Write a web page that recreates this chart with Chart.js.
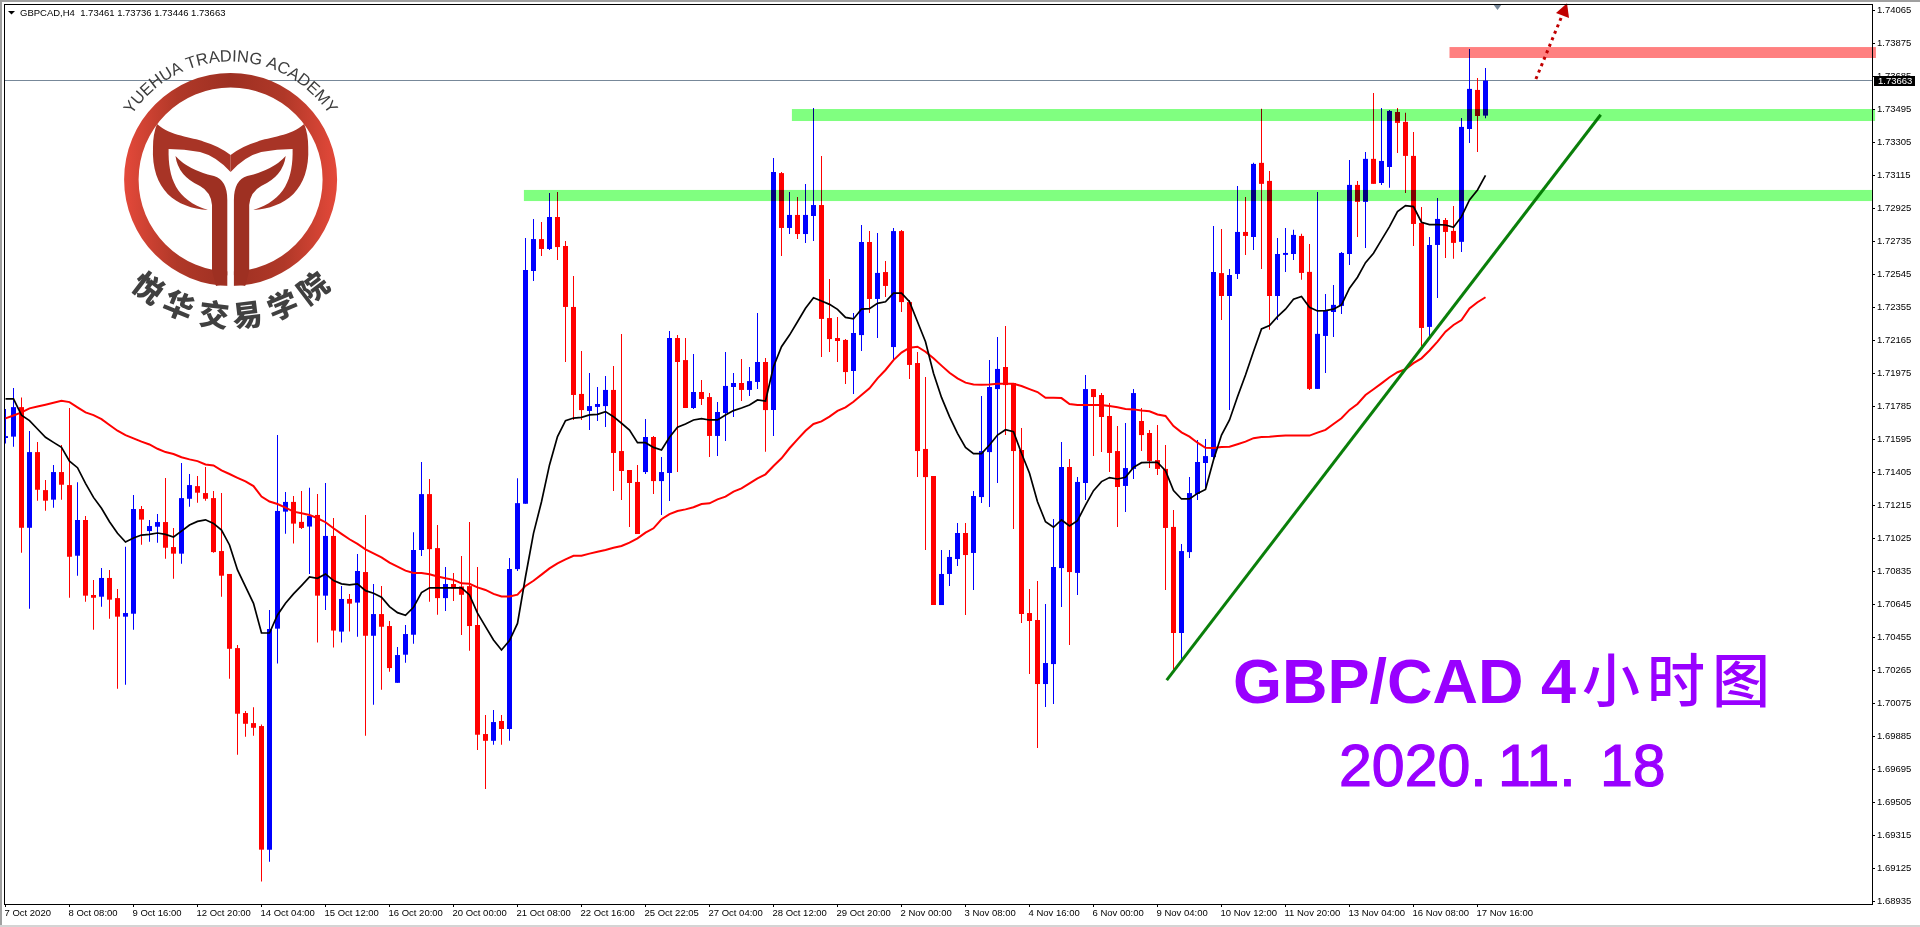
<!DOCTYPE html>
<html lang="zh">
<head>
    <meta charset="UTF-8">
    <title>GBPCAD H4</title>
    <script src="https://cdn.jsdelivr.net/npm/chart.js"></script>
    <style>
        html, body { margin: 0; padding: 0; background: #fff; overflow: hidden; }
        canvas { display: block; }
    </style>
</head>
<body>
    <canvas id="grafico" width="1920" height="927"></canvas>

    <script>
        // Candles, oldest first
        const opens = [
            1.71604,1.71612,1.71782,1.71087,1.71523,1.71304,1.71249,1.71408,1.71333,1.70926,
            1.71132,1.70700,1.70690,1.70798,1.70682,1.70575,1.70592,1.71195,1.71068,1.71093,
            1.71120,1.70976,1.70938,1.71254,1.71327,1.71287,1.71258,1.70953,1.70821,1.70394,
            1.70020,1.69962,1.69945,1.69233,1.70506,1.71180,1.71236,1.71121,1.71094,1.71161,
            1.70696,1.71040,1.70489,1.70677,1.70656,1.70832,1.70465,1.70590,1.70521,1.70194,
            1.70356,1.70471,1.70959,1.71281,1.70970,1.70682,1.70763,1.70749,1.70751,1.70527,
            1.69899,1.69860,1.69974,1.69928,1.70849,1.71226,1.72566,1.72750,1.72693,1.72877,
            1.72710,1.72359,1.71858,1.71760,1.71783,1.71788,1.71881,1.71529,1.71420,1.71351,
            1.71408,1.71610,1.71356,1.71403,1.72180,1.72053,1.71777,1.71869,1.71840,1.71616,
            1.71748,1.71898,1.71921,1.71881,1.71927,1.72042,1.71765,1.73130,1.72814,1.72889,
            1.72779,1.72883,1.72946,1.72295,1.72180,1.72169,1.71990,1.72197,1.72733,1.72405,
            1.72560,1.72128,1.72796,1.72387,1.72036,1.71541,1.71385,1.70642,1.70821,1.70907,
            1.71057,1.70942,1.71264,1.71523,1.71886,1.72013,1.71921,1.71535,1.70596,1.70556,
            1.70187,1.70302,1.70855,1.71437,1.70827,1.71345,1.71886,1.71852,1.71731,1.71529,
            1.71328,1.71426,1.71702,1.71633,1.71477,1.71426,1.71092,1.70481,1.70947,1.71282,
            1.71460,1.71495,1.72554,1.72422,1.72549,1.72791,1.72762,1.73189,1.73085,1.72422,
            1.72659,1.72664,1.72768,1.72561,1.71887,1.72192,1.72330,1.72365,1.72664,1.73062,
            1.72964,1.73212,1.73073,1.73165,1.73482,1.73425,1.73229,1.72843,1.72244,1.72716,
            1.72860,1.72797,1.72734,1.73384,1.73609,1.73461
        ];
        const highs = [
            1.71771,1.71892,1.71838,1.71644,1.71581,1.71362,1.71448,1.71564,1.71777,1.71350,
            1.71155,1.70786,1.70855,1.70844,1.70734,1.70978,1.71276,1.71212,1.71132,1.71166,
            1.71374,1.71086,1.71460,1.71397,1.71385,1.71437,1.71299,1.71287,1.70821,1.70412,
            1.70031,1.70054,1.69954,1.70613,1.71622,1.71293,1.71270,1.71299,1.71317,1.71282,
            1.71345,1.71144,1.70752,1.70706,1.70936,1.71160,1.70763,1.70751,1.70550,1.70400,
            1.70527,1.71062,1.71466,1.71368,1.71103,1.70861,1.70826,1.70924,1.71120,1.70861,
            1.70008,1.70037,1.70008,1.70913,1.71373,1.72756,1.72866,1.72848,1.73015,1.73021,
            1.72739,1.72537,1.72105,1.71979,1.71898,1.71961,1.72019,1.72203,1.71420,1.71449,
            1.71714,1.71616,1.71495,1.72220,1.72197,1.72180,1.72088,1.71938,1.71863,1.71811,
            1.72099,1.71979,1.72059,1.72013,1.72324,1.72065,1.73217,1.73136,1.73021,1.72992,
            1.73067,1.73505,1.73228,1.72520,1.72301,1.72174,1.72324,1.72831,1.72796,1.72785,
            1.72624,1.72814,1.72802,1.72399,1.72099,1.71955,1.71385,1.70959,1.70959,1.71115,
            1.71115,1.71299,1.71846,1.72053,1.72186,1.72249,1.71921,1.71662,1.70734,1.70780,
            1.70648,1.71138,1.71581,1.71483,1.71379,1.71967,1.71886,1.71863,1.71806,1.71673,
            1.71690,1.71886,1.71777,1.71650,1.71679,1.71564,1.71189,1.70994,1.71379,1.71593,
            1.71598,1.72825,1.72808,1.72578,1.73056,1.72992,1.73189,1.73500,1.73142,1.72756,
            1.72814,1.72803,1.72780,1.72722,1.73021,1.72434,1.72486,1.72676,1.73206,1.73085,
            1.73252,1.73592,1.73505,1.73494,1.73505,1.73477,1.73367,1.72935,1.72762,1.72987,
            1.72872,1.72941,1.73448,1.73845,1.73678,1.73736
        ];
        const lows = [
            1.71573,1.71554,1.70943,1.70621,1.71243,1.71185,1.71203,1.71249,1.70684,1.70811,
            1.70661,1.70500,1.70632,1.70563,1.70160,1.70183,1.70500,1.70990,1.71007,1.71001,
            1.70909,1.70794,1.70880,1.71208,1.71231,1.71243,1.70943,1.70690,1.70218,1.69780,
            1.69884,1.69889,1.69050,1.69163,1.70305,1.71053,1.70996,1.71080,1.70821,1.70426,
            1.70614,1.70397,1.70426,1.70489,1.70460,1.69889,1.70068,1.70154,1.70258,1.70194,
            1.70310,1.70419,1.70924,1.70661,1.70586,1.70607,1.70665,1.70469,1.70379,1.69807,
            1.69582,1.69837,1.69837,1.69860,1.70838,1.71226,1.72508,1.72652,1.72687,1.72629,
            1.72042,1.71708,1.71708,1.71650,1.71702,1.71667,1.71299,1.71247,1.71091,1.71051,
            1.71397,1.71282,1.71161,1.71241,1.71408,1.71777,1.71771,1.71794,1.71495,1.71500,
            1.71587,1.71725,1.71817,1.71846,1.71886,1.71525,1.71616,1.72652,1.72779,1.72750,
            1.72727,1.72739,1.72071,1.72099,1.72042,1.71915,1.71858,1.72105,1.72324,1.72180,
            1.72416,1.72053,1.72330,1.71944,1.71379,1.70959,1.70642,1.70642,1.70752,1.70867,
            1.70585,1.70729,1.71230,1.71207,1.71345,1.71621,1.71080,1.70539,1.70245,1.69819,
            1.70055,1.70072,1.70631,1.70412,1.70700,1.71247,1.71500,1.71524,1.71408,1.71092,
            1.71178,1.71368,1.71529,1.71431,1.71391,1.70729,1.70268,1.70325,1.70913,1.71247,
            1.71305,1.71477,1.72284,1.71765,1.72520,1.72658,1.72687,1.72578,1.72227,1.72284,
            1.72561,1.72630,1.72515,1.71881,1.71887,1.71979,1.72186,1.72319,1.72601,1.72762,
            1.72699,1.73068,1.73062,1.73045,1.73246,1.73016,1.72710,1.72134,1.72192,1.72411,
            1.72641,1.72636,1.72676,1.73304,1.73252,1.73446
        ];
        const closes = [
            1.71615,1.71782,1.71087,1.71523,1.71306,1.71243,1.71408,1.71335,1.70920,1.71132,
            1.70696,1.70684,1.70798,1.70673,1.70575,1.70596,1.71195,1.71134,1.71097,1.71120,
            1.70972,1.70938,1.71258,1.71333,1.71289,1.71254,1.70947,1.70811,1.70390,1.70016,
            1.69958,1.69935,1.69233,1.70504,1.71184,1.71236,1.71111,1.71086,1.71155,1.70696,
            1.71040,1.70495,1.70677,1.70650,1.70838,1.70465,1.70590,1.70517,1.70279,1.70354,
            1.70475,1.70959,1.71281,1.70964,1.70682,1.70763,1.70738,1.70701,1.70521,1.69895,
            1.69860,1.69968,1.69928,1.70849,1.71229,1.72572,1.72750,1.72693,1.72877,1.72704,
            1.72359,1.71852,1.71765,1.71788,1.71800,1.71881,1.71518,1.71414,1.71345,1.71051,
            1.71610,1.71356,1.71408,1.72180,1.72042,1.71777,1.71869,1.71829,1.71616,1.71754,
            1.71904,1.71921,1.71881,1.71932,1.72042,1.71765,1.73136,1.72814,1.72889,1.72779,
            1.72889,1.72946,1.72290,1.72174,1.72163,1.71984,1.72209,1.72733,1.72405,1.72555,
            1.72480,1.72796,1.72387,1.72025,1.71529,1.71379,1.70642,1.70821,1.70919,1.71057,
            1.70930,1.71270,1.71529,1.71898,1.72002,1.71909,1.71529,1.70590,1.70550,1.70187,
            1.70308,1.70861,1.71437,1.70832,1.71351,1.71886,1.71840,1.71725,1.71518,1.71322,
            1.71431,1.71863,1.71621,1.71472,1.71426,1.71086,1.70481,1.70953,1.71287,1.71466,
            1.71500,1.72560,1.72422,1.72543,1.72791,1.72768,1.73183,1.73068,1.72422,1.72664,
            1.72670,1.72774,1.72555,1.71887,1.72204,1.72336,1.72371,1.72670,1.73062,1.72964,
            1.73212,1.73068,1.73200,1.73488,1.73419,1.73229,1.72837,1.72238,1.72716,1.72866,
            1.72791,1.72728,1.73396,1.73615,1.73459,1.73663
        ];

        // Medias moviles
        const maFast = [
            1.71829,1.71829,1.71736,1.71704,1.71656,1.71608,1.71579,1.71550,1.71471,1.71433,
            1.71343,1.71262,1.71199,1.71122,1.71055,1.71005,1.71028,1.71045,1.71049,1.71057,
            1.71049,1.71034,1.71068,1.71103,1.71124,1.71133,1.71112,1.71074,1.70988,1.70844,
            1.70748,1.70652,1.70481,1.70481,1.70585,1.70652,1.70706,1.70754,1.70804,1.70796,
            1.70821,1.70783,1.70764,1.70758,1.70764,1.70725,1.70710,1.70687,1.70633,1.70598,
            1.70583,1.70629,1.70714,1.70741,1.70741,1.70741,1.70741,1.70741,1.70700,1.70595,
            1.70518,1.70441,1.70383,1.70437,1.70536,1.70805,1.71055,1.71237,1.71449,1.71612,
            1.71704,1.71719,1.71723,1.71737,1.71740,1.71756,1.71727,1.71689,1.71650,1.71577,
            1.71577,1.71550,1.71535,1.71608,1.71666,1.71685,1.71708,1.71716,1.71708,1.71708,
            1.71737,1.71762,1.71777,1.71794,1.71823,1.71817,1.72015,1.72130,1.72197,1.72274,
            1.72351,1.72412,1.72393,1.72374,1.72345,1.72299,1.72290,1.72347,1.72349,1.72380,
            1.72389,1.72439,1.72439,1.72389,1.72274,1.72159,1.71977,1.71838,1.71727,1.71631,
            1.71550,1.71514,1.71514,1.71564,1.71621,1.71652,1.71641,1.71516,1.71401,1.71237,
            1.71122,1.71090,1.71132,1.71097,1.71128,1.71218,1.71301,1.71353,1.71376,1.71368,
            1.71378,1.71435,1.71462,1.71464,1.71464,1.71416,1.71301,1.71253,1.71253,1.71285,
            1.71308,1.71477,1.71621,1.71708,1.71842,1.71967,1.72102,1.72232,1.72252,1.72303,
            1.72346,1.72403,1.72419,1.72357,1.72336,1.72338,1.72346,1.72371,1.72467,1.72530,
            1.72614,1.72668,1.72745,1.72822,1.72908,1.72943,1.72937,1.72847,1.72833,1.72833,
            1.72831,1.72818,1.72879,1.72975,1.73033,1.73117
        ];
        const maSlow = [
            1.71717,1.71734,1.71752,1.71775,1.71786,1.71796,1.71807,1.71819,1.71811,1.71781,
            1.71752,1.71736,1.71713,1.71679,1.71646,1.71621,1.71602,1.71583,1.71567,1.71542,
            1.71523,1.71512,1.71493,1.71481,1.71471,1.71452,1.71446,1.71418,1.71397,1.71375,
            1.71354,1.71327,1.71267,1.71238,1.71224,1.71203,1.71180,1.71171,1.71161,1.71142,
            1.71119,1.71084,1.71052,1.71021,1.70994,1.70963,1.70940,1.70917,1.70886,1.70863,
            1.70840,1.70827,1.70827,1.70819,1.70806,1.70796,1.70787,1.70767,1.70764,1.70744,
            1.70729,1.70706,1.70691,1.70691,1.70702,1.70752,1.70782,1.70817,1.70853,1.70882,
            1.70905,1.70926,1.70926,1.70938,1.70949,1.70959,1.70972,1.70982,1.71001,1.71026,
            1.71059,1.71084,1.71136,1.71166,1.71184,1.71193,1.71205,1.71224,1.71228,1.71251,
            1.71266,1.71295,1.71314,1.71343,1.71372,1.71395,1.71443,1.71487,1.71545,1.71596,
            1.71646,1.71685,1.71700,1.71727,1.71760,1.71781,1.71813,1.71852,1.71890,1.71948,
            1.71996,1.72053,1.72096,1.72124,1.72130,1.72101,1.72063,1.72021,1.71980,1.71948,
            1.71923,1.71913,1.71911,1.71913,1.71917,1.71917,1.71917,1.71904,1.71886,1.71869,
            1.71836,1.71836,1.71834,1.71800,1.71794,1.71794,1.71794,1.71794,1.71788,1.71781,
            1.71771,1.71769,1.71762,1.71758,1.71740,1.71731,1.71673,1.71637,1.71612,1.71577,
            1.71548,1.71546,1.71552,1.71554,1.71568,1.71583,1.71603,1.71610,1.71612,1.71616,
            1.71618,1.71618,1.71618,1.71618,1.71635,1.71651,1.71685,1.71718,1.71766,1.71800,
            1.71852,1.71885,1.71919,1.71954,1.71983,1.72000,1.72035,1.72063,1.72108,1.72159,
            1.72217,1.72255,1.72284,1.72351,1.72386,1.72415
        ];

        // Etiquetas de los ejes
        const xLabels = ['7 Oct 2020','8 Oct 08:00','9 Oct 16:00','12 Oct 20:00','14 Oct 04:00','15 Oct 12:00',
            '16 Oct 20:00','20 Oct 00:00','21 Oct 08:00','22 Oct 16:00','25 Oct 22:05','27 Oct 04:00',
            '28 Oct 12:00','29 Oct 20:00','2 Nov 00:00','3 Nov 08:00','4 Nov 16:00','6 Nov 00:00',
            '9 Nov 04:00','10 Nov 12:00','11 Nov 20:00','13 Nov 04:00','16 Nov 08:00','17 Nov 16:00'];
        const yTicks = [1.74065,1.73875,1.73685,1.73495,1.73305,1.73115,1.72925,1.72735,1.72545,1.72355,
            1.72165,1.71975,1.71785,1.71595,1.71405,1.71215,1.71025,1.70835,1.70645,1.70455,
            1.70265,1.70075,1.69885,1.69695,1.69505,1.69315,1.69125,1.68935];

        // Zonas y lineas dibujadas a mano sobre el grafico: [desde barra, hasta barra, precio alto, precio bajo]
        const greenUpper = [98.3, 233.7, 1.73499, 1.73430];
        const greenLower = [64.8, 233.3, 1.73033, 1.72969];
        const redZone = [180.5, 233.8, 1.73856, 1.73793];
        const trendLine = [{x: 145.15, y: 1.70210}, {x: 199.4, y: 1.73466}];
        const arrowLine = [{x: 191.3, y: 1.73672}, {x: 194.6, y: 1.74041}];
        const arrowHead = [{x: 195.19, y: 1.74108}, {x: 193.81, y: 1.74052}, {x: 195.44, y: 1.74023}];

        const headerText = 'GBPCAD,H4  1.73461 1.73736 1.73446 1.73663';
        const lastPrice = closes[closes.length - 1];

        const barIdx = opens.map((_, i) => i);
        const colors = barIdx.map(i => closes[i] >= opens[i] ? '#0000ff' : '#ff0000');
        const axisFont = { family: '"Liberation Sans", Arial, sans-serif', size: 9.5 };

        function drawLogo(ctx) {
            const cx = 230.6, cy = 179.5;
            const grad = ctx.createLinearGradient(124, 0, 337, 0);
            grad.addColorStop(0, '#e4493a');
            grad.addColorStop(0.25, '#b03828');
            grad.addColorStop(0.5, '#9e3022');
            grad.addColorStop(0.75, '#b03828');
            grad.addColorStop(1, '#e4493a');

            ctx.save();
            // anillo
            ctx.fillStyle = grad;
            ctx.beginPath();
            ctx.arc(cx, cy, 106.5, 0, Math.PI * 2);
            ctx.arc(cx, cy, 92, 0, Math.PI * 2, true);
            ctx.fill();
            ctx.fillStyle = '#fff';
            ctx.fillRect(227.3, 262, 6.6, 30);

            // mitad izquierda y su espejo
            [1, -1].forEach(side => {
                ctx.save();
                if (side < 0) { ctx.translate(cx * 2, 0); ctx.scale(-1, 1); }
                ctx.fillStyle = '#a83426';
                // hoja exterior
                ctx.beginPath();
                ctx.moveTo(157, 124);
                ctx.bezierCurveTo(170, 136, 192, 137, 204, 141.7);
                ctx.quadraticCurveTo(219, 146, cx, 155);
                ctx.lineTo(cx, 172);
                ctx.quadraticCurveTo(216, 156, 200, 152);
                ctx.quadraticCurveTo(184, 149, 168.6, 149);
                ctx.bezierCurveTo(168, 178, 176, 200, 208, 210);
                ctx.bezierCurveTo(176, 208, 151, 190, 153, 147);
                ctx.quadraticCurveTo(153, 134, 157, 124);
                ctx.fill();
                // hoja interior y tallo
                ctx.fillStyle = '#9e3022';
                ctx.beginPath();
                ctx.moveTo(175.5, 156);
                ctx.quadraticCurveTo(188, 170, 214, 176);
                ctx.quadraticCurveTo(227.3, 180, 227.3, 200);
                ctx.lineTo(227.3, 275);
                ctx.quadraticCurveTo(225, 286, 216, 286);
                ctx.lineTo(212, 270);
                ctx.lineTo(212, 205);
                ctx.quadraticCurveTo(211, 192, 200, 186);
                ctx.quadraticCurveTo(178, 176, 175.5, 156);
                ctx.fill();
                ctx.restore();
            });

            // texto en arco
            ctx.fillStyle = '#3d3d3d';
            ctx.textAlign = 'center';
            ctx.textBaseline = 'alphabetic';
            ctx.font = '16.5px "Liberation Sans", Arial, sans-serif';
            const arcText = 'YUEHUA TRADING ACADEMY';
            const total = ctx.measureText(arcText).width;
            let run = -total / 2;
            for (const ch of arcText) {
                const w = ctx.measureText(ch).width;
                const ang = (run + w / 2) / 118;
                ctx.save();
                ctx.translate(cx + Math.sin(ang) * 118, cy - Math.cos(ang) * 118);
                ctx.rotate(ang);
                ctx.fillText(ch, 0, 0);
                ctx.restore();
                run += w;
            }
            ctx.font = '900 30px "Noto Sans CJK SC", sans-serif';
            ctx.textBaseline = 'middle';
            ctx.fillStyle = '#404040';
            const cn = '悦华交易学院';
            const angles = [37.2, 22.4, 7, -7, -22.4, -37.2];
            [...cn].forEach((ch, k) => {
                const a = angles[k] * Math.PI / 180;
                ctx.save();
                ctx.translate(cx - Math.sin(a) * 136, cy + Math.cos(a) * 136);
                ctx.rotate(a);
                ctx.fillText(ch, 0, 0);
                ctx.restore();
            });
            ctx.restore();
        }

        const marcoPlugin = {
            id: 'marco',
            beforeDraw(chart) {
                const ctx = chart.ctx;
                ctx.save();
                ctx.fillStyle = '#fff';
                ctx.fillRect(0, 0, 1920, 927);
                // borde de la ventana
                ctx.fillStyle = '#a0a0a0';
                ctx.fillRect(0, 0, 1920, 2);
                ctx.fillRect(0, 0, 2, 927);
                ctx.fillStyle = '#d4d4d4';
                ctx.fillRect(0, 925, 1920, 2);
                ctx.restore();
            },
            beforeDatasetsDraw(chart) {
                const ctx = chart.ctx, y = chart.scales.y;
                ctx.save();
                ctx.strokeStyle = '#778899';
                ctx.lineWidth = 1;
                const py = Math.floor(y.getPixelForValue(lastPrice)) + 0.5;
                ctx.beginPath();
                ctx.moveTo(4, py);
                ctx.lineTo(1872, py);
                ctx.stroke();
                ctx.restore();
            },
            afterDatasetsDraw(chart) {
                const ctx = chart.ctx, x = chart.scales.x, y = chart.scales.y;
                ctx.save();
                // zonas, con multiply como en MT4
                ctx.globalCompositeOperation = 'multiply';
                [[greenUpper, '#80ff80'], [greenLower, '#80ff80'], [redZone, '#ff8080']].forEach(([z, col]) => {
                    const x0 = x.getPixelForValue(z[0]), x1 = x.getPixelForValue(z[1]);
                    const y0 = y.getPixelForValue(z[2]), y1 = y.getPixelForValue(z[3]);
                    ctx.fillStyle = col;
                    ctx.fillRect(x0, y0, x1 - x0, y1 - y0);
                });
                ctx.restore();

                ctx.save();
                // punta de la flecha
                ctx.fillStyle = '#c00000';
                ctx.beginPath();
                arrowHead.forEach((p, k) => {
                    const px = x.getPixelForValue(p.x), py = y.getPixelForValue(p.y);
                    if (k === 0) ctx.moveTo(px, py); else ctx.lineTo(px, py);
                });
                ctx.closePath();
                ctx.fill();

                // marca gris arriba
                ctx.fillStyle = '#778899';
                ctx.beginPath();
                ctx.moveTo(1493, 4);
                ctx.lineTo(1502, 4);
                ctx.lineTo(1497.5, 10);
                ctx.closePath();
                ctx.fill();

                // marco del grafico
                ctx.strokeStyle = '#000';
                ctx.lineWidth = 1;
                ctx.strokeRect(4.5, 4.5, 1868, 900);

                // cabecera
                ctx.fillStyle = '#000';
                ctx.beginPath();
                ctx.moveTo(8, 11);
                ctx.lineTo(15, 11);
                ctx.lineTo(11.5, 14.5);
                ctx.closePath();
                ctx.fill();
                ctx.font = '9.5px "Liberation Sans", Arial, sans-serif';
                ctx.textAlign = 'left';
                ctx.textBaseline = 'middle';
                ctx.fillText(headerText, 20, 13);

                // precio actual
                ctx.fillStyle = '#000';
                ctx.fillRect(1874, 76, 41, 10);
                ctx.fillStyle = '#fff';
                ctx.font = '9.5px "Liberation Sans", Arial, sans-serif';
                ctx.fillText(lastPrice.toFixed(5), 1878, 81);

                drawLogo(ctx);

                // titulos
                ctx.fillStyle = '#9900ff';
                ctx.strokeStyle = '#9900ff';
                ctx.textBaseline = 'alphabetic';
                ctx.font = 'bold 63px "Liberation Sans", Arial, sans-serif';
                ctx.fillText('GBP/CAD 4', 1233, 703);
                ctx.font = '500 58px "Noto Sans CJK SC", sans-serif';
                ctx.letterSpacing = '7px';
                ctx.textBaseline = 'middle';
                ctx.fillText('小时图', 1582, 680);
                ctx.letterSpacing = '0px';
                ctx.textBaseline = 'alphabetic';
                ctx.font = '59px "Liberation Sans", Arial, sans-serif';
                ctx.lineWidth = 1.2;
                [['2020.', 1339], ['11.', 1498], ['18', 1600]].forEach(([t, px]) => {
                    ctx.fillText(t, px, 786);
                    ctx.strokeText(t, px, 786);
                });
                ctx.restore();
            }
        };

        new Chart(document.getElementById('grafico').getContext('2d'), {
            type: 'bar',
            plugins: [marcoPlugin],
            data: {
                datasets: [{
                    type: 'line',
                    data: trendLine,
                    borderColor: '#0a7f0a',
                    borderWidth: 3,
                    pointRadius: 0,
                    order: 0
                }, {
                    type: 'line',
                    data: arrowLine,
                    borderColor: '#c00000',
                    borderWidth: 3,
                    borderDash: [3, 4],
                    pointRadius: 0,
                    order: 0
                }, {
                    type: 'line',
                    data: barIdx.map(i => ({ x: i, y: maFast[i] })),
                    borderColor: '#000000',
                    borderWidth: 1.7,
                    pointRadius: 0,
                    order: 1
                }, {
                    type: 'line',
                    data: barIdx.map(i => ({ x: i, y: maSlow[i] })),
                    borderColor: '#ff0000',
                    borderWidth: 2,
                    pointRadius: 0,
                    order: 1
                }, {
                    data: barIdx.map(i => ({ x: i, y: [opens[i], closes[i]] })),
                    backgroundColor: colors,
                    barThickness: 5,
                    grouped: false,
                    inflateAmount: 0,
                    order: 2
                }, {
                    data: barIdx.map(i => ({ x: i, y: [lows[i], highs[i]] })),
                    backgroundColor: colors,
                    barThickness: 1,
                    grouped: false,
                    inflateAmount: 0,
                    order: 3
                }]
            },
            options: {
                responsive: false,
                animation: false,
                layout: { padding: { left: 4, top: 4, right: 0, bottom: 0 } },
                plugins: { legend: { display: false }, tooltip: { enabled: false }, title: { display: false } },
                scales: {
                    x: {
                        type: 'linear',
                        offset: false,
                        min: -0.1875,
                        max: 233.3125,
                        afterBuildTicks: s => { s.ticks = xLabels.map((_, k) => ({ value: k * 8 })); },
                        afterFit: s => { s.height = 23; s.paddingLeft = 0; s.paddingRight = 0; },
                        grid: { drawOnChartArea: false, offset: false, color: '#000', tickLength: 3 },
                        border: { color: '#000' },
                        ticks: {
                            color: '#000',
                            font: axisFont,
                            autoSkip: false,
                            maxRotation: 0,
                            minRotation: 0,
                            align: 'start',
                            padding: 1,
                            labelOffset: -1,
                            callback: v => xLabels[Math.round(v / 8)]
                        }
                    },
                    y: {
                        type: 'linear',
                        position: 'right',
                        min: 1.68920,
                        max: 1.74104,
                        afterBuildTicks: s => { s.ticks = yTicks.map(v => ({ value: v })); },
                        afterFit: s => { s.width = 48; s.paddingTop = 0; s.paddingBottom = 0; },
                        grid: { drawOnChartArea: false, color: '#000', tickLength: 3 },
                        border: { color: '#000' },
                        ticks: {
                            color: '#000',
                            font: axisFont,
                            autoSkip: false,
                            padding: 2,
                            callback: v => v.toFixed(5)
                        }
                    }
                }
            }
        });
    </script>
</body>
</html>
